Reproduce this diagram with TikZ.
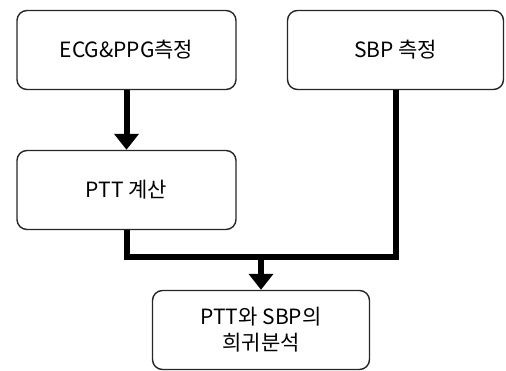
\documentclass[tikz,border=0pt]{standalone}
\usepackage{fontspec}
\setmainfont{Noto Sans CJK KR}
\usepackage{tikz}
\usetikzlibrary{arrows.meta}
\usetikzlibrary{calc}

\tikzset{
  box/.style={draw=black!85, line width=1.4pt, rounded corners=10pt,
              minimum width=219pt, minimum height=79pt, align=center,
              font=\fontsize{21}{26}\selectfont},
  link/.style={line width=6pt, black},
  conn/.style={link, -{Triangle[width=24pt,length=16pt]}}
}

\begin{document}
\begin{tikzpicture}[x=1pt, y=-1pt]
    % рамка рисунка
    \useasboundingbox (0,0) rectangle (506,370);

    % блоки
    \node[box] (ecg) at (126.5,50) {ECG\&PPG측정};
    \node[box, minimum width=216pt] (sbp) at (395.5,50) {SBP 측정};
    \node[box] (ptt) at (126.5,190) {PTT 계산};
    \node[box, minimum width=217pt] (ana) at (261,330) {PTT와 SBP의\\희귀분석};

    % точка слияния
    \coordinate (mid) at ($(ana.north)+(0,-33)$);

    % стрелки
    \draw[conn] (ecg) -- (ptt);
    \draw[link] (ptt) |- (mid);
    \draw[link] (sbp) |- (mid);
    \draw[conn] (mid) -- (ana);
\end{tikzpicture}
\end{document}
